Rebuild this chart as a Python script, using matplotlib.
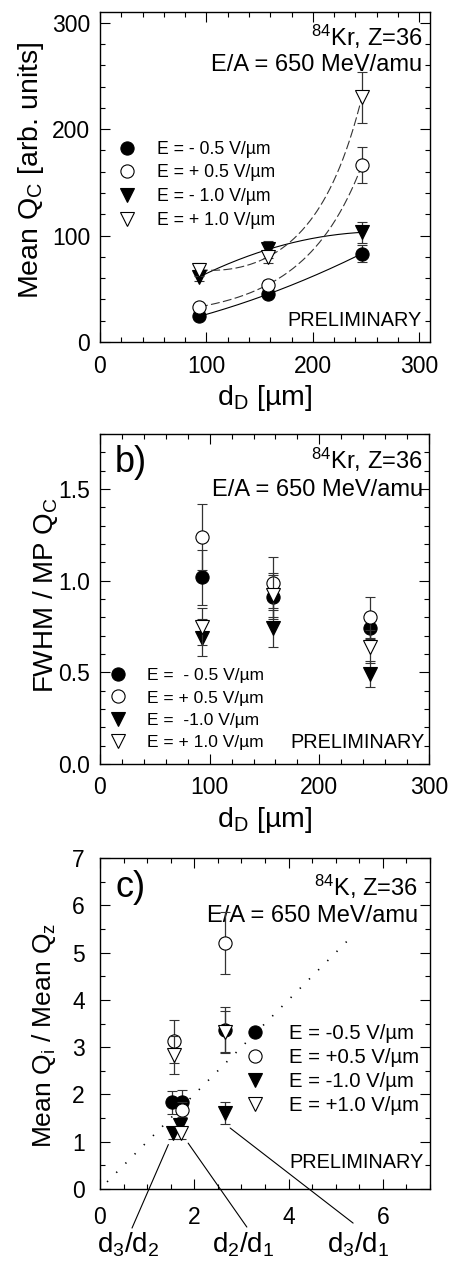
import numpy as np
import matplotlib
matplotlib.use("Agg")
import matplotlib.pyplot as plt
from matplotlib.lines import Line2D

plt.rcParams['font.family'] = ['Liberation Sans', 'DejaVu Sans']
plt.rcParams['mathtext.fontset'] = 'custom'
plt.rcParams['mathtext.rm'] = 'Liberation Sans'
plt.rcParams['mathtext.it'] = 'Liberation Sans'
plt.rcParams['mathtext.default'] = 'rm'

# ---- data ----
# a) mean charge vs thickness
d_a = [93, 158, 246]
qa_m05 = [24, 45, 83]
qa_m05_err = [3, 4, 8]
qa_p05 = [33, 54, 166]
qa_p05_err = [3, 4, 17]
qa_m10 = [61, 87, 103]
qa_m10_err = [4, 8, 10]
qa_p10 = [68, 80, 230]
qa_p10_err = [6, 6, 24]

# b) FWHM / MP
d_b = [93, 158, 246]
fb_m05 = [1.02, 0.91, 0.74]
fb_m05_err = [0.15, 0.12, 0.06]
fb_p05 = [1.24, 0.99, 0.80]
fb_p05_err = [0.18, 0.14, 0.11]
fb_m10 = [0.69, 0.74, 0.49]
fb_m10_err = [0.10, 0.10, 0.07]
fb_p10 = [0.75, 0.92, 0.64]
fb_p10_err = [0.10, 0.12, 0.09]

# c) ratios
rx_m05 = [1.52, 1.73, 2.65]
rc_m05 = [1.83, 1.85, 3.37]
rc_m05_err = [0.25, 0.25, 0.48]
rx_p05 = [1.56, 1.73, 2.65]
rc_p05 = [3.12, 1.68, 5.20]
rc_p05_err = [0.45, 0.15, 0.65]
rx_m10 = [1.54, 1.70, 2.65]
rc_m10 = [1.18, 1.36, 1.60]
rc_m10_err = [0.12, 0.12, 0.23]
rx_p10 = [1.56, 1.71, 2.65]
rc_p10 = [2.84, 1.18, 3.32]
rc_p10_err = [0.40, 0.12, 0.45]
diag = [0.15, 5.3]

labels_a = ['E = - 0.5 V/µm', 'E = + 0.5 V/µm', 'E = - 1.0 V/µm', 'E = + 1.0 V/µm']
labels_b = ['E =  - 0.5 V/µm', 'E = + 0.5 V/µm', 'E =  -1.0 V/µm', 'E = + 1.0 V/µm']
labels_c = ['E = -0.5 V/µm', 'E = +0.5 V/µm', 'E = -1.0 V/µm', 'E = +1.0 V/µm']

styles = [dict(marker='o', mfc='black', mec='black'),
          dict(marker='o', mfc='white', mec='black'),
          dict(marker='v', mfc='black', mec='black'),
          dict(marker='v', mfc='white', mec='black')]
ms = 9.5

fig = plt.figure(figsize=(4.49, 12.62), dpi=100)
W, H = 449.0, 1262.0
ax_a = fig.add_axes([100 / W, 1 - 342 / H, 330 / W, 330 / H])
ax_b = fig.add_axes([100 / W, 1 - 764 / H, 329 / W, 330 / H])
ax_c = fig.add_axes([100 / W, 1 - 1189 / H, 330 / W, 331 / H])


def style_axes(ax, xmaj, xmin, ymaj, ymin, xpad=9, ypad=7):
    ax.set_xticks(xmaj)
    ax.set_xticks(xmin, minor=True)
    ax.set_yticks(ymaj)
    ax.set_yticks(ymin, minor=True)
    ax.tick_params(which='both', direction='in', top=True, right=True, width=0.8)
    ax.tick_params(which='major', length=7, labelsize=16.5)
    ax.tick_params(axis='x', which='major', pad=xpad)
    ax.tick_params(axis='y', which='major', pad=ypad)
    ax.tick_params(which='minor', length=3.5)
    for s in ax.spines.values():
        s.set_linewidth(1.0)


def draw_points(ax, xs, ys, errs, order):
    for i in order:
        ax.errorbar(xs[i], ys[i], yerr=errs[i], ls='none', ecolor='#333333',
                    elinewidth=0.9, capsize=3.5, capthick=0.9, ms=ms, mew=0.8,
                    **styles[i], zorder=3 + i)


def make_legend(ax, labels, x, y, fs, spacing):
    handles = [Line2D([], [], ls='none', ms=ms, mew=0.8, **st) for st in styles]
    ax.legend(handles, labels, loc='upper left', bbox_to_anchor=(x, y), frameon=False,
              fontsize=fs, handlelength=1.0, handletextpad=1.2, labelspacing=spacing,
              borderpad=0, borderaxespad=0)


# ---- panel a ----
ax = ax_a
xs = [d_a] * 4
ys = [qa_m05, qa_p05, qa_m10, qa_p10]
es = [qa_m05_err, qa_p05_err, qa_m10_err, qa_p10_err]
xf = np.linspace(d_a[0], d_a[-1], 200)
# fitted guide curves through the points
c1 = np.polyfit(d_a, qa_m05, 2)
ax.plot(xf, np.polyval(c1, xf), color='black', lw=0.8, zorder=2)
c3 = np.polyfit(d_a, qa_m10, 2)
ax.plot(xf, np.polyval(c3, xf), color='black', lw=0.8, zorder=2)
c2 = np.polyfit(d_a, np.log(qa_p05), 2)
ax.plot(xf, np.exp(np.polyval(c2, xf)), color='#333333', lw=0.8, ls=(0, (8, 3)), zorder=2)
c4 = np.polyfit(d_a, np.log(qa_p10), 2)
ax.plot(xf, np.exp(np.polyval(c4, xf)), color='#333333', lw=0.8, ls=(0, (8, 3)), zorder=2)
draw_points(ax, xs, ys, es, [0, 1, 2, 3])
ax.set_xlim(0, 310)
ax.set_ylim(0, 310)
style_axes(ax, [0, 100, 200, 300], np.arange(0, 311, 20), [0, 100, 200, 300], np.arange(0, 311, 20))
ax.set_xlabel('d$_D$ [µm]', fontsize=20.5, labelpad=4)
ax.set_ylabel('Mean Q$_C$ [arb. units]', fontsize=20.5)
ax.yaxis.set_label_coords(-0.165, 0.521)
ax.text(0.976, 0.924, '$^{84}$Kr, Z=36', transform=ax.transAxes, ha='right', va='center', fontsize=17)
ax.text(0.976, 0.839, 'E/A = 650 MeV/amu', transform=ax.transAxes, ha='right', va='center', fontsize=17)
ax.text(0.976, 0.064, 'PRELIMINARY', transform=ax.transAxes, ha='right', va='center', fontsize=14.3)
make_legend(ax, labels_a, 0.055, 0.61, 12.7, 0.38)

# ---- panel b ----
ax = ax_b
xs = [d_b] * 4
ys = [fb_m05, fb_p05, fb_m10, fb_p10]
es = [fb_m05_err, fb_p05_err, fb_m10_err, fb_p10_err]
draw_points(ax, xs, ys, es, [0, 2, 3, 1])
ax.set_xlim(0, 300)
ax.set_ylim(0, 1.8)
style_axes(ax, [0, 100, 200, 300], np.arange(0, 301, 20), [0.0, 0.5, 1.0, 1.5], np.arange(0, 1.81, 0.1))
ax.set_yticklabels(['0.0', '0.5', '1.0', '1.5'])
ax.set_xlabel('d$_D$ [µm]', fontsize=20.5, labelpad=4)
ax.set_ylabel('FWHM / MP Q$_C$', fontsize=20)
ax.yaxis.set_label_coords(-0.122, 0.511)
ax.text(0.046, 0.915, 'b)', transform=ax.transAxes, ha='left', va='center', fontsize=26)
ax.text(0.979, 0.921, '$^{84}$Kr, Z=36', transform=ax.transAxes, ha='right', va='center', fontsize=17)
ax.text(0.982, 0.830, 'E/A = 650 MeV/amu', transform=ax.transAxes, ha='right', va='center', fontsize=17)
ax.text(0.988, 0.064, 'PRELIMINARY', transform=ax.transAxes, ha='right', va='center', fontsize=14.3)
make_legend(ax, labels_b, 0.028, 0.29, 12.5, 0.4)

# ---- panel c ----
ax = ax_c
xs = [rx_m05, rx_p05, rx_m10, rx_p10]
ys = [rc_m05, rc_p05, rc_m10, rc_p10]
es = [rc_m05_err, rc_p05_err, rc_m10_err, rc_p10_err]
ax.plot(diag, diag, color='black', lw=1.2, ls=(0, (0.8, 7)), zorder=2)
draw_points(ax, xs, ys, es, [0, 1, 2, 3])
ax.set_xlim(0, 7)
ax.set_ylim(0, 7)
style_axes(ax, [0, 2, 4, 6], np.arange(0, 7.01, 0.5), np.arange(0, 8, 1), np.arange(0, 7.01, 0.5),
           xpad=12, ypad=11)
ax.set_ylabel('Mean Q$_i$ / Mean Q$_z$', fontsize=19)
ax.yaxis.set_label_coords(-0.128, 0.465)
ax.text(0.046, 0.912, 'c)', transform=ax.transAxes, ha='left', va='center', fontsize=26)
ax.text(0.963, 0.912, '$^{84}$K, Z=36', transform=ax.transAxes, ha='right', va='center', fontsize=17)
ax.text(0.963, 0.825, 'E/A = 650 MeV/amu', transform=ax.transAxes, ha='right', va='center', fontsize=17)
ax.text(0.982, 0.079, 'PRELIMINARY', transform=ax.transAxes, ha='right', va='center', fontsize=14.3)
make_legend(ax, labels_c, 0.439, 0.498, 14.6, 0.25)

ratio_names = ['d$_3$/d$_2$', 'd$_2$/d$_1$', 'd$_3$/d$_1$']
ratio_from = [(1.45, 0.94), (1.87, 0.97), (2.76, 1.29)]
ratio_to = [(0.097, -0.118), (0.445, -0.115), (0.767, -0.103)]
ratio_text_x = [0.085, 0.433, 0.782]
for name, p0, p1, tx in zip(ratio_names, ratio_from, ratio_to, ratio_text_x):
    ax.annotate('', xy=p0, xycoords='data', xytext=p1, textcoords='axes fraction',
                arrowprops=dict(arrowstyle='-', lw=0.8, color='black', shrinkA=0, shrinkB=0),
                annotation_clip=False)
    ax.text(tx, -0.169, name, transform=ax.transAxes, ha='center', va='center', fontsize=20)

fig.savefig('out.png', dpi=100)
